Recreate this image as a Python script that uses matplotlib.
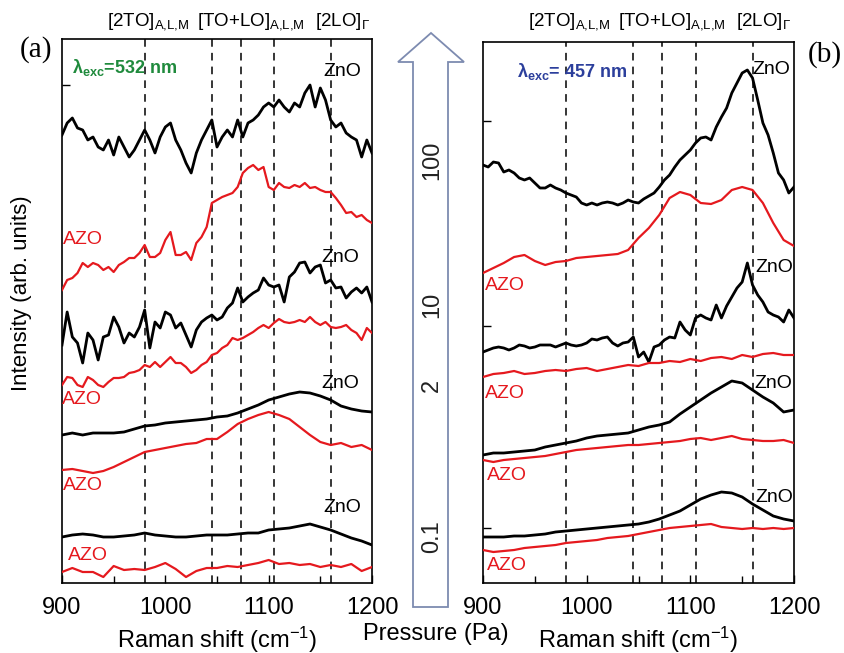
import numpy as np
import matplotlib
matplotlib.use("Agg")
import matplotlib.pyplot as plt
from matplotlib.patches import Polygon
from matplotlib.ticker import MultipleLocator

plt.rcParams['font.family'] = ['Liberation Sans', 'DejaVu Sans']
plt.rcParams['mathtext.fontset'] = 'custom'
plt.rcParams['mathtext.rm'] = 'Liberation Sans'
plt.rcParams['mathtext.it'] = 'Liberation Sans:italic'
plt.rcParams['mathtext.bf'] = 'Liberation Sans:bold'

# Raman shift grids (cm-1)
shift5 = np.arange(900, 1201, 5)
shift10 = np.arange(900, 1201, 10)

# ---- panel (a), lambda_exc = 532 nm (stacked, arb. units) ----
a_zno_1 = [448, 460, 465, 455, 453, 443, 446, 436, 433, 443, 428, 446, 436, 426, 433, 443,
           453, 443, 430, 446, 456, 460, 443, 433, 420, 410, 430, 443, 453, 463, 436, 446,
           453, 446, 463, 446, 460, 463, 468, 476, 480, 476, 483, 476, 471, 480, 476, 490,
           498, 476, 495, 483, 463, 456, 460, 450, 446, 443, 426, 443, 430]
a_azo_1 = [293, 303, 305, 310, 320, 316, 320, 318, 313, 316, 311, 318, 321, 325, 325, 330,
           338, 326, 326, 330, 343, 351, 328, 328, 331, 323, 340, 346, 356, 380, 383, 386,
           388, 390, 396, 410, 415, 418, 413, 416, 396, 393, 400, 396, 395, 398, 396, 400,
           395, 396, 393, 391, 391, 385, 378, 370, 371, 366, 368, 363, 360]
a_zno_2 = [238, 271, 246, 240, 220, 250, 243, 223, 246, 248, 266, 256, 240, 250, 246, 256,
           273, 235, 261, 255, 271, 268, 255, 260, 248, 236, 253, 261, 265, 268, 263, 266,
           275, 280, 295, 281, 286, 290, 293, 305, 298, 296, 298, 281, 306, 311, 320, 321,
           310, 316, 318, 300, 303, 295, 296, 285, 291, 295, 290, 296, 281]
a_azo_2 = [198, 206, 205, 198, 196, 206, 203, 198, 196, 201, 205, 205, 206, 210, 211, 213,
           218, 216, 221, 216, 221, 226, 220, 220, 216, 210, 213, 218, 221, 228, 230, 235,
           238, 245, 243, 245, 248, 251, 255, 258, 255, 260, 264, 261, 260, 261, 263, 261,
           266, 261, 258, 261, 256, 255, 256, 258, 253, 250, 243, 255, 250]
a_zno_3 = [148, 150, 148, 150, 150, 150, 151, 154, 157, 158, 160, 161, 162, 163, 164, 166,
           167, 170, 174, 178, 183, 186, 189, 191, 190, 187, 183, 177, 174, 172, 171]
a_azo_3 = [113, 114, 112, 110, 112, 116, 121, 126, 131, 133, 135, 137, 139, 140, 144, 144,
           151, 159, 164, 168, 171, 168, 164, 156, 148, 141, 138, 140, 136, 138, 133]
a_zno_4 = [46, 48, 49, 48, 46, 46, 47, 48, 50, 48, 47, 46, 46, 47, 48, 48,
           48, 49, 50, 50, 53, 54, 55, 57, 59, 56, 53, 49, 45, 42, 38]
a_azo_4 = [11, 15, 11, 11, 6, 17, 13, 14, 13, 16, 20, 14, 6, 12, 15, 15,
           17, 16, 18, 20, 23, 19, 20, 18, 19, 16, 18, 16, 19, 12, 16]

# ---- panel (b), lambda_exc = 457 nm ----
b_zno_1 = [418, 416, 421, 420, 411, 413, 410, 405, 403, 405, 400, 395, 395, 398, 395, 393,
           390, 388, 386, 380, 378, 380, 378, 380, 381, 380, 378, 380, 383, 381, 380, 384,
           387, 390, 396, 403, 408, 416, 423, 428, 433, 440, 445, 446, 443, 456, 466, 475,
           490, 500, 510, 513, 505, 483, 460, 448, 430, 410, 403, 390, 396]
b_azo_1 = [310, 315, 320, 326, 328, 322, 318, 321, 322, 325, 326, 327, 328, 329, 333, 345,
           355, 368, 385, 391, 388, 380, 379, 383, 393, 396, 393, 380, 360, 343, 337]
b_zno_2 = [231, 233, 235, 236, 235, 233, 235, 238, 237, 235, 236, 238, 238, 238, 236, 238,
           240, 238, 237, 238, 240, 244, 243, 245, 246, 240, 237, 240, 241, 246, 226, 231,
           221, 236, 238, 243, 246, 245, 261, 253, 248, 265, 268, 265, 263, 278, 265, 277,
           286, 295, 301, 320, 298, 288, 281, 271, 268, 266, 261, 273, 265]
b_azo_2 = [206, 209, 210, 212, 209, 210, 212, 213, 212, 214, 215, 212, 214, 216, 218, 217,
           220, 220, 222, 221, 224, 222, 225, 226, 224, 228, 226, 229, 230, 228, 228]
b_zno_3 = [128, 130, 130, 131, 132, 133, 136, 138, 140, 142, 145, 147, 148, 149, 150, 153,
           156, 158, 161, 169, 176, 183, 190, 196, 202, 200, 193, 186, 180, 171, 173]
b_azo_3 = [123, 121, 123, 124, 125, 126, 127, 129, 131, 133, 134, 135, 136, 137, 138, 138,
           139, 140, 141, 142, 144, 145, 143, 145, 147, 144, 143, 142, 142, 143, 140]
b_zno_4 = [46, 46, 46, 47, 47, 48, 49, 51, 52, 53, 54, 55, 56, 57, 58, 59,
           61, 64, 68, 72, 78, 84, 88, 91, 90, 86, 79, 73, 67, 64, 62]
b_azo_4 = [33, 31, 32, 33, 35, 36, 37, 38, 40, 41, 42, 43, 45, 46, 47, 49,
           51, 53, 55, 56, 57, 58, 59, 56, 55, 54, 55, 54, 55, 54, 55]

# phonon mode positions (cm-1)
modes = [980, 1045, 1073, 1105, 1160]
pressures = ['100', '10', '2', '0.1']

# label positions: (x cm-1, intensity)
a_labels = [('ZnO', 1171, 511), ('AZO', 920, 343), ('ZnO', 1169, 326), ('AZO', 919, 183),
            ('ZnO', 1169, 200), ('AZO', 920, 97), ('ZnO', 1171, 75), ('AZO', 925, 28)]
b_labels = [('ZnO', 1178, 513), ('AZO', 921, 298), ('ZnO', 1181, 315), ('AZO', 921, 190),
            ('ZnO', 1180, 200), ('AZO', 923, 108), ('ZnO', 1181, 86), ('AZO', 923, 18)]

RED = '#e5191e'
W, H = 844, 653


def px_rect(l, t, r, b):
    return [l / W, 1 - b / H, (r - l) / W, (b - t) / H]


def style_axis(ax, ytop, yticks):
    ax.set_xlim(900, 1200)
    ax.set_ylim(0, ytop)
    ax.xaxis.set_major_locator(MultipleLocator(100))
    ax.xaxis.set_minor_locator(MultipleLocator(50))
    ax.set_yticks(yticks)
    ax.set_yticklabels([])
    ax.tick_params(axis='x', which='major', direction='in', length=6, width=1,
                   labelsize=17, pad=10)
    ax.tick_params(axis='x', which='minor', direction='in', length=5, width=1)
    ax.tick_params(axis='y', direction='in', length=6, width=1)
    for sp in ax.spines.values():
        sp.set_linewidth(1.2)
    for m in modes:
        ax.axvline(m, color='black', lw=1.1, ls=(0, (5, 4)), zorder=1)
    ax.set_xlabel('Raman shift (cm$^{-1}$)', fontsize=17, labelpad=4)


fig = plt.figure(figsize=(W / 100, H / 100), dpi=100)
ax_a = fig.add_axes(px_rect(62, 39, 372, 583))
ax_b = fig.add_axes(px_rect(483, 42, 794, 583))

style_axis(ax_a, 544, [498])
style_axis(ax_b, 541, [462, 257, 55])

for ys, xs, c in [(a_zno_1, shift5, 'black'), (a_azo_1, shift5, RED),
                  (a_zno_2, shift5, 'black'), (a_azo_2, shift5, RED),
                  (a_zno_3, shift10, 'black'), (a_azo_3, shift10, RED),
                  (a_zno_4, shift10, 'black'), (a_azo_4, shift10, RED)]:
    ax_a.plot(xs, ys, color=c, lw=2.0 if c == 'black' else 1.6, zorder=3)
for ys, xs, c in [(b_zno_1, shift5, 'black'), (b_azo_1, shift10, RED),
                  (b_zno_2, shift5, 'black'), (b_azo_2, shift10, RED),
                  (b_zno_3, shift10, 'black'), (b_azo_3, shift10, RED),
                  (b_zno_4, shift10, 'black'), (b_azo_4, shift10, RED)]:
    ax_b.plot(xs, ys, color=c, lw=2.0 if c == 'black' else 1.6, zorder=3)

for ax, labels in [(ax_a, a_labels), (ax_b, b_labels)]:
    for txt, x, y in labels:
        ax.text(x, y, txt, color='black' if txt == 'ZnO' else RED, fontsize=14,
                ha='center', va='center', zorder=4)

ax_a.text(910, 515, 'λ$_{\\mathbf{exc}}$=532 nm', color='#1f8a3c', fontsize=13,
          fontweight='bold', ha='left', va='center')
ax_b.text(933, 511, 'λ$_{\\mathbf{exc}}$= 457 nm', color='#2c3f9c', fontsize=13,
          fontweight='bold', ha='left', va='center')

# mode labels above the panels
for off in (0, 421):
    fig.text((107 + off) / W, 1 - 22 / H, '[2TO]$_{\\mathrm{A{,}L{,}M}}$', fontsize=13.5,
             ha='left', va='center')
    fig.text((197 + off) / W, 1 - 22 / H, '[TO+LO]$_{\\mathrm{A{,}L{,}M}}$', fontsize=13.5,
             ha='left', va='center')
    fig.text((315 + off) / W, 1 - 22 / H, '[2LO]$_{\\Gamma}$', fontsize=13.5,
             ha='left', va='center')

fig.text(36 / W, 1 - 50 / H, '(a)', fontsize=21, family='Liberation Serif',
         ha='center', va='center')
fig.text(825 / W, 1 - 55 / H, '(b)', fontsize=21, family='Liberation Serif',
         ha='center', va='center')
fig.text(22 / W, 1 - 293 / H, 'Intensity (arb. units)', fontsize=16, rotation=90,
         ha='center', va='center')

# pressure arrow between the panels
arrow_px = [(413, 607), (413, 62), (398, 62), (431, 33), (464, 62), (448, 62), (448, 607)]
fig.patches.append(Polygon([(x / W, 1 - y / H) for x, y in arrow_px], closed=True,
                           transform=fig.transFigure, facecolor='white',
                           edgecolor='#7d8bb0', lw=1.3))
for p, ypx in zip(pressures, [160, 305, 385, 537]):
    fig.text(432 / W, 1 - ypx / H, p, fontsize=17, rotation=90, color='#222222',
             ha='center', va='center')
fig.text(436 / W, 1 - 634 / H, 'Pressure (Pa)', fontsize=17, ha='center', va='center')

fig.savefig('out.png', dpi=100)
